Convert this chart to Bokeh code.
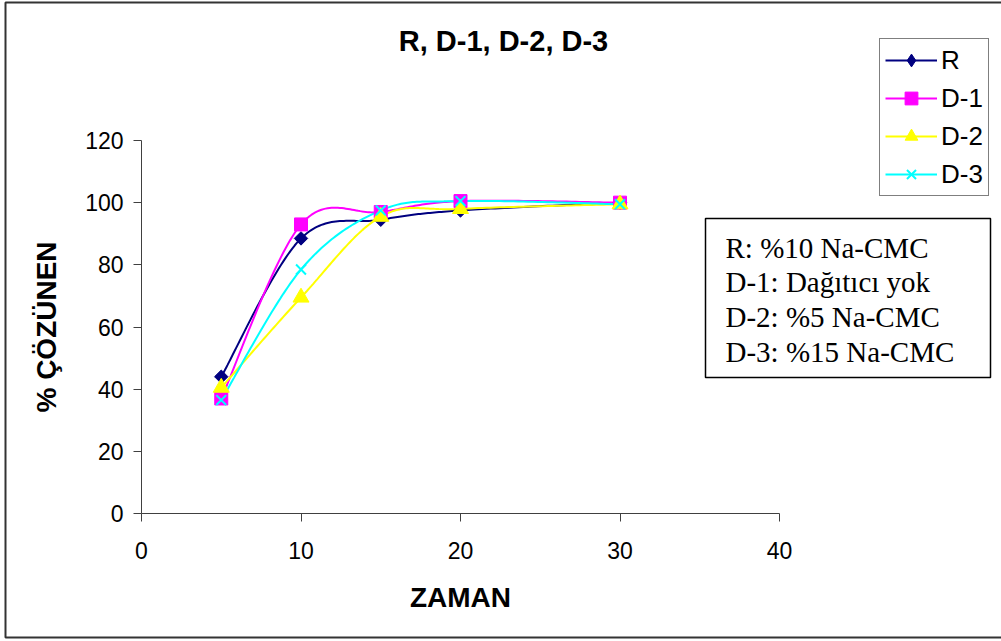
import numpy as np
from bokeh.plotting import figure
from bokeh.models import (Range1d, FixedTicker, Legend, LegendItem, Label,
                          BoxAnnotation)
from bokeh.embed import file_html
from bokeh.resources import INLINE

# ---------------- data ----------------
time_min = [5, 10, 15, 20, 30]
R_vals = [44, 88.5, 94.5, 97.5, 100]
D1_vals = [37, 93, 97, 100.5, 100]
D2_vals = [40.5, 69.5, 95.5, 98, 99.5]
D3_vals = [36.5, 78.5, 97.5, 100.5, 99.5]
series_names = ["R", "D-1", "D-2", "D-3"]
series_colors = ["#000080", "#FF00FF", "#FFFF00", "#00FFFF"]
x_ticks = [0, 10, 20, 30, 40]
y_ticks = [0, 20, 40, 60, 80, 100, 120]
title_text = "R, D-1, D-2, D-3"
x_label = "ZAMAN"
y_label = "% ÇÖZÜNEN"
note_lines = ["R: %10 Na-CMC", "D-1: Dağıtıcı yok", "D-2: %5 Na-CMC", "D-3: %15 Na-CMC"]

# ---------------- layout constants (canvas px) ----------------
W, H = 1001, 641
AX_L, AX_R, AX_T, AX_B = 141, 779, 140, 513   # where the 0..40 / 0..120 box sits
X0, X1 = 0, 40
Y0, Y1 = 0, 120
kx = (AX_R - AX_L) / (X1 - X0)
ky = (AX_B - AX_T) / (Y1 - Y0)
xr = Range1d(X0 - AX_L / kx, X0 + (W - AX_L) / kx)
yr = Range1d(Y0 - (H - AX_B) / ky, Y0 + AX_B / ky)


def sx_(cx):  # canvas x -> screen units of the (full-canvas) frame
    return cx


def sy_(cy):  # canvas y (from top) -> screen units (from bottom)
    return H - cy


def smooth(xs, ys, n=40):
    """Excel-like smoothed line: cubic Bezier segments, Catmull-Rom controls."""
    xs = np.asarray(xs, float)
    ys = np.asarray(ys, float)
    px = np.concatenate([[xs[0]], xs, [xs[-1]]])
    py = np.concatenate([[ys[0]], ys, [ys[-1]]])
    t = np.linspace(0, 1, n)
    ox, oy = [], []
    for i in range(len(xs) - 1):
        p0 = np.array([px[i], py[i]])
        p1 = np.array([px[i + 1], py[i + 1]])
        p2 = np.array([px[i + 2], py[i + 2]])
        p3 = np.array([px[i + 3], py[i + 3]])
        c1 = p1 + (p2 - p0) / 6.0
        c2 = p2 - (p3 - p1) / 6.0
        b = ((1 - t) ** 3)[:, None] * p1 + (3 * (1 - t) ** 2 * t)[:, None] * c1 \
            + (3 * (1 - t) * t ** 2)[:, None] * c2 + (t ** 3)[:, None] * p2
        if i > 0:
            b = b[1:]
        ox.extend(b[:, 0])
        oy.extend(b[:, 1])
    return ox, oy


p = figure(width=W, height=H, output_backend="svg", toolbar_location=None,
           x_range=xr, y_range=yr, title=None,
           min_border_left=0, min_border_right=0, min_border_top=0, min_border_bottom=0)
p.outline_line_color = None
p.background_fill_color = "white"
p.border_fill_color = "white"
p.xgrid.visible = False
p.ygrid.visible = False

for ax in (p.xaxis[0], p.yaxis[0]):
    ax.axis_line_color = "#404040"
    ax.major_tick_line_color = "#404040"
    ax.major_tick_in = 0
    ax.major_tick_out = 8
    ax.minor_tick_line_color = None
    ax.major_label_text_font = "Liberation Sans"
    ax.major_label_text_font_size = "23px"
    ax.major_label_text_color = "black"
    ax.axis_label_text_font = "Liberation Sans"
    ax.axis_label_text_font_style = "bold"
    ax.axis_label_text_font_size = "28px"
    ax.axis_label_text_color = "black"

p.xaxis[0].fixed_location = Y0
p.yaxis[0].fixed_location = X0
p.xaxis[0].bounds = (X0, X1)
p.yaxis[0].bounds = (Y0, Y1)
p.xaxis.ticker = FixedTicker(ticks=x_ticks)
p.yaxis.ticker = FixedTicker(ticks=y_ticks)
p.xaxis.axis_label = x_label
p.yaxis.axis_label = y_label
p.xaxis.major_label_standoff = 20
p.yaxis.major_label_standoff = 10
p.xaxis.axis_label_standoff = 20
p.yaxis.axis_label_standoff = 20

all_vals = [R_vals, D1_vals, D2_vals, D3_vals]
line_renderers = []
for vals, col in zip(all_vals, series_colors):
    sx, sy = smooth(time_min, vals)
    line_renderers.append(p.line(sx, sy, line_color=col, line_width=2))

# markers
mR = p.scatter(time_min, R_vals, marker="square", angle=np.pi / 4, size=9.5,
               fill_color=series_colors[0], line_color=series_colors[0])
m1 = p.scatter(time_min, D1_vals, marker="square", size=13,
               fill_color=series_colors[1], line_color=series_colors[1])
m2 = p.scatter(time_min, D2_vals, marker="triangle", size=16,
               fill_color=series_colors[2], line_color=series_colors[2])
m3 = p.scatter(time_min, D3_vals, marker="x", size=14,
               line_color=series_colors[3], line_width=2)
# legend-only diamond for R (no data points)
mR_leg = p.scatter([np.nan], [np.nan], marker="diamond", size=10,
                   fill_color=series_colors[0], line_color=series_colors[0])

# outer chart border
outer = BoxAnnotation(left=sx_(5), right=sx_(1004), top=sy_(2), bottom=sy_(637),
                      left_units="screen", right_units="screen",
                      top_units="screen", bottom_units="screen",
                      fill_color=None, fill_alpha=0, line_color="#333333",
                      line_alpha=1, line_width=2, level="underlay")
p.add_layout(outer)

items = [
    LegendItem(label=series_names[0], renderers=[line_renderers[0], mR_leg]),
    LegendItem(label=series_names[1], renderers=[line_renderers[1], m1]),
    LegendItem(label=series_names[2], renderers=[line_renderers[2], m2]),
    LegendItem(label=series_names[3], renderers=[line_renderers[3], m3]),
]
legend = Legend(items=items, location=(sx_(879), sy_(196)))
legend.margin = 0
legend.padding = 5
legend.spacing = 6
legend.glyph_width = 52
legend.glyph_height = 32
legend.label_height = 32
legend.label_standoff = 4
legend.label_text_font = "Liberation Sans"
legend.label_text_font_size = "26px"
legend.label_text_color = "black"
legend.border_line_color = "black"
legend.border_line_width = 1
legend.background_fill_color = "white"
legend.background_fill_alpha = 1
p.add_layout(legend)

# notes box
note_box = BoxAnnotation(left=sx_(705), right=sx_(990), top=sy_(218), bottom=sy_(377),
                         left_units="screen", right_units="screen",
                         top_units="screen", bottom_units="screen",
                         fill_color="white", fill_alpha=1, line_color="black",
                         line_alpha=1, line_width=1.5)
p.add_layout(note_box)
for i, txt in enumerate(note_lines):
    p.add_layout(Label(x=sx_(725), y=sy_(247 + i * 34.7), x_units="screen", y_units="screen",
                       text=txt, text_font="Liberation Serif", text_font_size="29px",
                       text_baseline="middle", text_align="left", text_color="black"))

# title
p.add_layout(Label(x=sx_(503), y=sy_(40), x_units="screen", y_units="screen",
                   text=title_text, text_font="Liberation Sans", text_font_style="bold",
                   text_font_size="29px", text_align="center", text_baseline="middle",
                   text_color="black"))

open("out.html", "w").write(file_html(p, INLINE))
